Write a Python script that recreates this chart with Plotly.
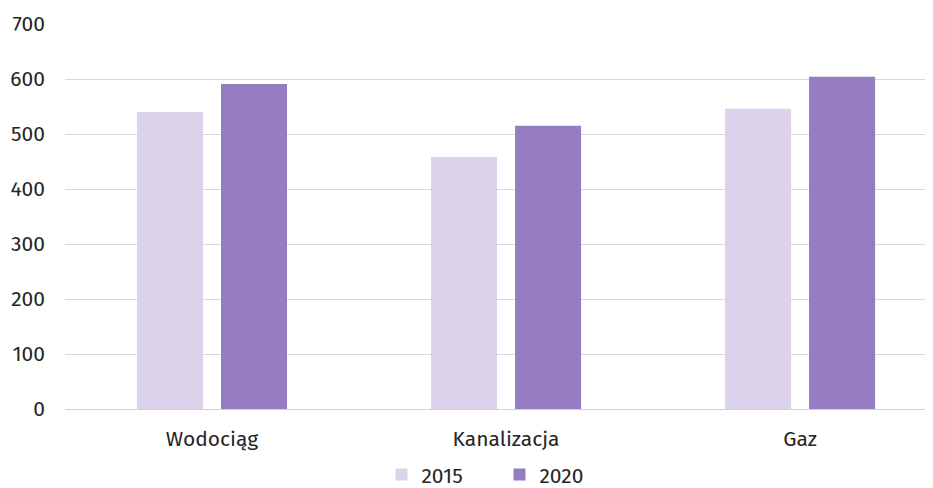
import plotly.graph_objects as go

categories = ["Wodociąg", "Kanalizacja", "Gaz"]
values_2015 = [540, 458, 546]
values_2020 = [591, 515, 604]
y_ticks = [0, 100, 200, 300, 400, 500, 600, 700]

FONT = "Fira Sans, Lato, Noto Sans, sans-serif"

fig = go.Figure()
fig.add_trace(go.Bar(name="2015", x=categories, y=values_2015,
                     marker=dict(color="#DCD3EA", line=dict(width=0))))
fig.add_trace(go.Bar(name="2020", x=categories, y=values_2020,
                     marker=dict(color="#967CC0", line=dict(width=0))))

# page body has an 8px default margin; figure sized to fill the rest of the window
fig.update_layout(
    width=925, height=480,
    margin=dict(l=57, r=0, t=16, b=78.5, autoexpand=False),
    paper_bgcolor="white", plot_bgcolor="white",
    barmode="group", bargap=0.4286, bargroupgap=0.214,
    font=dict(family=FONT, size=21, color="#262626"),
    legend=dict(orientation="h", xanchor="left", x=0.3646, y=-0.171, yanchor="middle",
                font=dict(size=21), entrywidth=73, entrywidthmode="pixels",
                itemwidth=30),
    showlegend=True,
)
fig.update_xaxes(range=[-0.5, 2.452], showgrid=False, showline=True,
                 linecolor="#D0D0D0", linewidth=1, ticks="", tickfont=dict(size=21),
                 ticklabelstandoff=11)
fig.update_yaxes(range=[0, 700], tickvals=y_ticks, showgrid=True, gridcolor="#D9D9D9",
                 gridwidth=1, zeroline=False, ticks="", ticklabelstandoff=19,
                 tickfont=dict(size=21))

fig.write_html("out.html")
